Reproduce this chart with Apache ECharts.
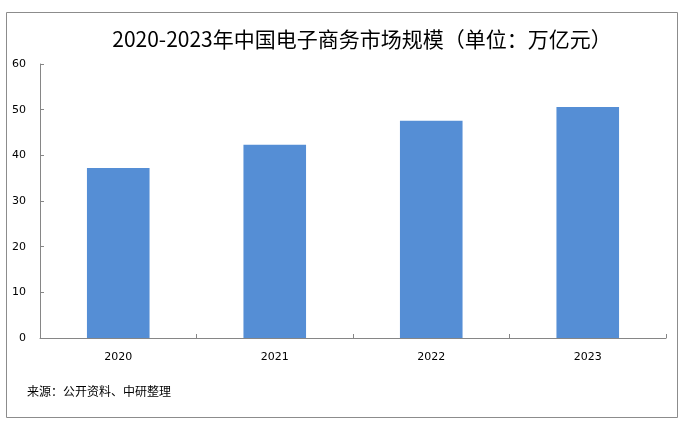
<!DOCTYPE html>
<html><head><meta charset="utf-8">
<script src="https://cdn.jsdelivr.net/npm/echarts@6/dist/echarts.min.js"></script>
<style>html,body{margin:0;padding:0;background:#fff}#c{width:682px;height:422px}</style>
</head><body><div id="c"></div>
<script>
const categories = ['2020', '2021', '2022', '2023'];
const values = [37.2, 42.3, 47.6, 50.6];
const yTicks = [0, 10, 20, 30, 40, 50, 60];
const titleText = '2020-2023年中国电子商务市场规模（单位：万亿元）';
const sourceText = '来源：公开资料、中研整理';

const chart = echarts.init(document.getElementById('c'));
chart.setOption({
  animation: false,
  backgroundColor: '#fff',
  title: {
    text: titleText, left: 357, top: 24, textAlign: 'center',
    textStyle: { fontFamily: '"Noto Sans CJK SC"', fontSize: 21, fontWeight: 'normal', color: '#000' }
  },
  graphic: [
    { type: 'rect', shape: { x: 6.5, y: 12.5, width: 671, height: 405 }, style: { fill: 'none', stroke: '#8c8c8c', lineWidth: 1 }, silent: true },
    { type: 'text', left: 27, top: 385, style: { text: sourceText, font: '12px "Noto Sans CJK SC"', fill: '#000' } }
  ],
  grid: { left: 40, right: 16, top: 64, bottom: 84 },
  xAxis: {
    type: 'category', data: categories,
    axisLine: { lineStyle: { color: '#868686' } },
    axisTick: { show: true, inside: true, length: 4, lineStyle: { color: '#868686' } },
    axisLabel: { color: '#000', fontSize: 11, margin: 14, fontFamily: 'Verdana, "DejaVu Sans"' }
  },
  yAxis: {
    type: 'value', min: yTicks[0], max: yTicks[yTicks.length - 1], interval: 10,
    axisLine: { show: true, lineStyle: { color: '#868686' } },
    axisTick: { show: true, inside: true, length: 4, lineStyle: { color: '#868686' } },
    splitLine: { show: false },
    axisLabel: { color: '#000', fontSize: 11, margin: 14, fontFamily: 'Verdana, "DejaVu Sans"' }
  },
  series: [{
    type: 'bar', data: values, barWidth: '40%',
    itemStyle: { color: '#558ed5' }
  }]
});
</script></body></html>
